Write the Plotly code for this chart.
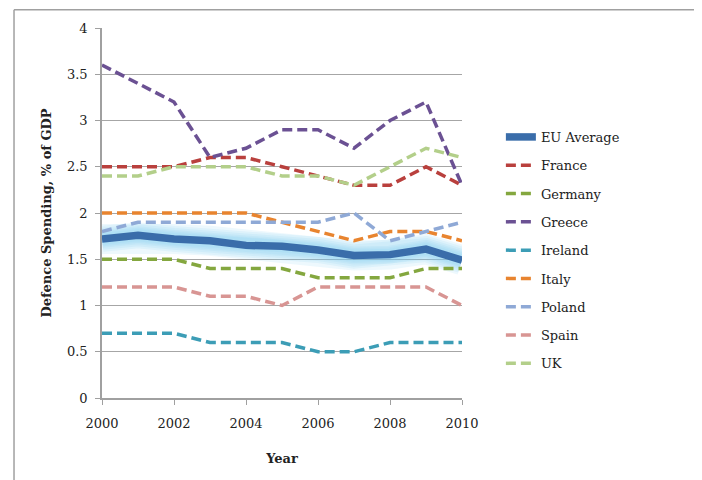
import plotly.graph_objects as go

years = list(range(2000, 2011))
eu_average = [1.72, 1.76, 1.72, 1.70, 1.65, 1.64, 1.60, 1.54, 1.55, 1.61, 1.49]
france = [2.5, 2.5, 2.5, 2.6, 2.6, 2.5, 2.4, 2.3, 2.3, 2.5, 2.3]
germany = [1.5, 1.5, 1.5, 1.4, 1.4, 1.4, 1.3, 1.3, 1.3, 1.4, 1.4]
greece = [3.6, 3.4, 3.2, 2.6, 2.7, 2.9, 2.9, 2.7, 3.0, 3.2, 2.3]
ireland = [0.7, 0.7, 0.7, 0.6, 0.6, 0.6, 0.5, 0.5, 0.6, 0.6, 0.6]
italy = [2.0, 2.0, 2.0, 2.0, 2.0, 1.9, 1.8, 1.7, 1.8, 1.8, 1.7]
poland = [1.8, 1.9, 1.9, 1.9, 1.9, 1.9, 1.9, 2.0, 1.7, 1.8, 1.9]
spain = [1.2, 1.2, 1.2, 1.1, 1.1, 1.0, 1.2, 1.2, 1.2, 1.2, 1.0]
uk = [2.4, 2.4, 2.5, 2.5, 2.5, 2.4, 2.4, 2.3, 2.5, 2.7, 2.6]

countries = [
    ("France", france, "#B9403D"),
    ("Germany", germany, "#84A73F"),
    ("Greece", greece, "#6B5193"),
    ("Ireland", ireland, "#3C9DB6"),
    ("Italy", italy, "#E8842F"),
    ("Poland", poland, "#8FA9D6"),
    ("Spain", spain, "#D89593"),
    ("UK", uk, "#B3CF8A"),
]

fig = go.Figure()

# soft glow under the EU average
glow_widths = [30, 26, 22, 18, 15, 12]
for w in glow_widths:
    fig.add_trace(go.Scatter(x=years, y=eu_average, mode="lines", showlegend=False,
                             hoverinfo="skip",
                             line=dict(color="rgba(130,205,240,0.14)", width=w)))

fig.add_trace(go.Scatter(x=years, y=eu_average, mode="lines", name="EU Average",
                         legendgroup="EU Average",
                         line=dict(color="#3A6DAA", width=7.5)))

for name, vals, col in countries:
    fig.add_trace(go.Scatter(x=years, y=vals, mode="lines", name=name, legendgroup=name,
                             line=dict(color=col, width=3.5, dash="10px,5px")))

fig.update_layout(
    width=702, height=480,
    margin=dict(l=94, r=248, t=20, b=90),
    paper_bgcolor="white", plot_bgcolor="white",
    font=dict(family="DejaVu Serif", size=13, color="#222222"),
    showlegend=True,
    legend=dict(x=1.108, xanchor="left", y=0.746, yanchor="top",
                font=dict(family="DejaVu Serif", size=13, color="#222222"),
                tracegroupgap=8.4, bgcolor="rgba(0,0,0,0)"),
    xaxis=dict(range=[2000, 2010], tickvals=[2000, 2002, 2004, 2006, 2008, 2010],
               showgrid=False, showline=True, linecolor="#A0A0A0", linewidth=1.5,
               ticks="outside", ticklen=5, tickcolor="#A0A0A0", zeroline=False,
               ticklabelstandoff=8,
               title=dict(text="<b>Year</b>", font=dict(size=13), standoff=24)),
    yaxis=dict(range=[0, 4], dtick=0.5, showgrid=True, gridcolor="#A6A6A6", gridwidth=1,
               showline=True, linecolor="#A0A0A0", linewidth=1.5, zeroline=False,
               ticks="outside", ticklen=5, tickcolor="#A0A0A0",
               ticklabelstandoff=5,
               title=dict(text="<b>Defence Spending, % of GDP</b>", font=dict(size=13), standoff=12)),
)

# chart border (left and top edges visible)
fig.add_shape(type="line", xref="paper", yref="paper", x0=-0.2444, x1=-0.2444, y0=1.0494, y1=-0.3,
              line=dict(color="#A0A0A0", width=1.5))
fig.add_shape(type="line", xref="paper", yref="paper", x0=-0.2444, x1=1.8, y0=1.0494, y1=1.0494,
              line=dict(color="#A0A0A0", width=1.5))

fig.write_html("out.html")
